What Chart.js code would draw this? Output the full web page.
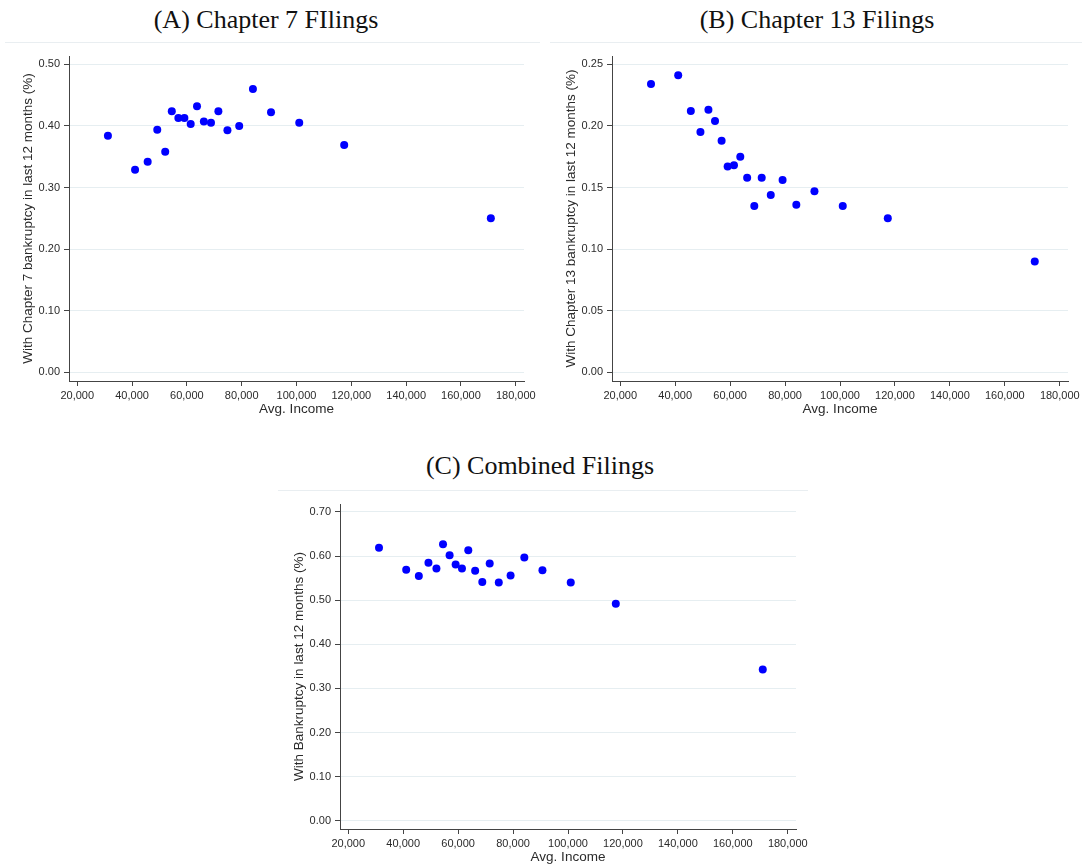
<!DOCTYPE html>
<html lang="en">
<head>
<meta charset="utf-8">
<title>Bankruptcy filings by average income</title>
<script src="https://cdn.jsdelivr.net/npm/chart.js@4.4.1/dist/chart.umd.min.js"></script>
<style>
  html, body { margin: 0; padding: 0; background: #fff; overflow: hidden; }
  body { width: 1082px; height: 867px; position: relative; }
  .panel-title {
    position: absolute;
    font-family: 'Liberation Serif', 'Times New Roman', serif;
    font-size: 26px;
    line-height: 26px;
    color: #111;
    white-space: nowrap;
    transform: translateX(-50%);
  }
  .title-rule { position: absolute; height: 1px; background: #e9eef1; }
  canvas { position: absolute; }
</style>
</head>
<body>

<div class="panel-title" style="left:266px; top:7px">(A) Chapter 7 FIlings</div>
<div class="title-rule" style="left:5px; top:42px; width:535px"></div>
<div class="panel-title" style="left:817px; top:7px">(B) Chapter 13 Filings</div>
<div class="title-rule" style="left:550px; top:42px; width:532px"></div>
<div class="panel-title" style="left:540px; top:453px">(C) Combined Filings</div>
<div class="title-rule" style="left:278px; top:490px; width:530px"></div>

<canvas id="chart-ch7"      width="534" height="381" style="left:20px;  top:36px"></canvas>
<canvas id="chart-ch13"     width="535" height="381" style="left:563px; top:36px"></canvas>
<canvas id="chart-combined" width="535" height="381" style="left:291px; top:484px"></canvas>

<script>
/* ============================================================
   DADOS (20 faixas de renda)
   ============================================================ */
const incomes = [31200, 41100, 45700, 49200, 52100, 54500, 56900, 59100, 61400, 63700,
                 66200, 68800, 71500, 74800, 79100, 84100, 90700, 101000, 117400, 170900];

const ch7 = [0.384, 0.329, 0.342, 0.394, 0.358, 0.424, 0.413, 0.413, 0.403, 0.432,
             0.407, 0.405, 0.424, 0.393, 0.400, 0.460, 0.422, 0.405, 0.369, 0.250];

const ch13 = [0.234, 0.241, 0.212, 0.195, 0.213, 0.204, 0.188, 0.167, 0.168, 0.175,
              0.158, 0.135, 0.158, 0.144, 0.156, 0.136, 0.147, 0.135, 0.125, 0.090];

const combined = [0.619, 0.569, 0.555, 0.585, 0.572, 0.627, 0.602, 0.581, 0.572, 0.613,
                  0.567, 0.541, 0.583, 0.540, 0.556, 0.597, 0.568, 0.540, 0.492, 0.343];

const incomeTicks = [20000, 40000, 60000, 80000, 100000, 120000, 140000, 160000, 180000];
const ticksCh7 = [0, 0.1, 0.2, 0.3, 0.4, 0.5];
const ticksCh13 = [0, 0.05, 0.1, 0.15, 0.2, 0.25];
const ticksCombined = [0, 0.1, 0.2, 0.3, 0.4, 0.5, 0.6, 0.7];

/* ============================================================
   PALETA
   ============================================================ */
const COR = {
    ponto: '#0000ff',
    eixo:  '#444444',
    texto: '#2b2b2b',
    grade: '#e6eef1',
};

Chart.defaults.font.family = "'Liberation Sans', Arial, sans-serif";

/**
 * Monta um painel de dispersão (renda x % com falência).
 */
function grafico(id, valores, yTicks, yMin, yMax, yTitulo) {
    return new Chart(document.getElementById(id), {
        type: 'scatter',
        data: {
            datasets: [{
                data: incomes.map((x, i) => ({ x: x, y: valores[i] })),
                backgroundColor: COR.ponto,
                borderWidth: 0,
                pointRadius: 4,
                pointHoverRadius: 4,
            }]
        },
        options: {
            responsive: false,
            animation: false,
            devicePixelRatio: 1,
            layout: { padding: { left: 0, top: 20, right: 30, bottom: 0 } },
            plugins: {
                legend: { display: false },
                tooltip: { enabled: false },
            },
            scales: {
                x: {
                    type: 'linear',
                    min: 17000,
                    max: 183000,
                    afterBuildTicks: s => { s.ticks = incomeTicks.map(v => ({ value: v })); },
                    afterFit: s => { s.height = 36; },
                    grid: { drawOnChartArea: false, tickLength: 5, tickColor: COR.eixo },
                    border: { display: true, color: COR.eixo, width: 1 },
                    ticks: {
                        padding: 3,
                        color: COR.texto,
                        font: { size: 11 },
                        maxRotation: 0,
                        autoSkip: false,
                        callback: v => v.toLocaleString('en-US'),
                    },
                    title: {
                        display: true,
                        text: 'Avg. Income',
                        color: COR.texto,
                        font: { size: 13.5 },
                        padding: 0,
                    }
                },
                y: {
                    min: yMin,
                    max: yMax,
                    afterBuildTicks: s => { s.ticks = yTicks.map(v => ({ value: v })); },
                    afterFit: s => { s.width = 49; },
                    grid: { color: COR.grade, tickLength: 5, tickColor: COR.eixo },
                    border: { display: true, color: COR.eixo, width: 1 },
                    ticks: {
                        padding: 4,
                        color: COR.texto,
                        font: { size: 11 },
                        autoSkip: false,
                        callback: v => v.toFixed(2),
                    },
                    title: {
                        display: true,
                        text: yTitulo,
                        color: COR.texto,
                        font: { size: 13.5 },
                        padding: 0,
                    }
                }
            }
        }
    });
}

grafico('chart-ch7', ch7, ticksCh7, -0.014, 0.5135,
        'With Chapter 7 bankruptcy in last 12 months (%)');
grafico('chart-ch13', ch13, ticksCh13, -0.007, 0.2567,
        'With Chapter 13 bankruptcy in last 12 months (%)');
grafico('chart-combined', combined, ticksCombined, -0.0188, 0.7181,
        'With Bankruptcy in last 12 months (%)');
</script>
</body>
</html>
